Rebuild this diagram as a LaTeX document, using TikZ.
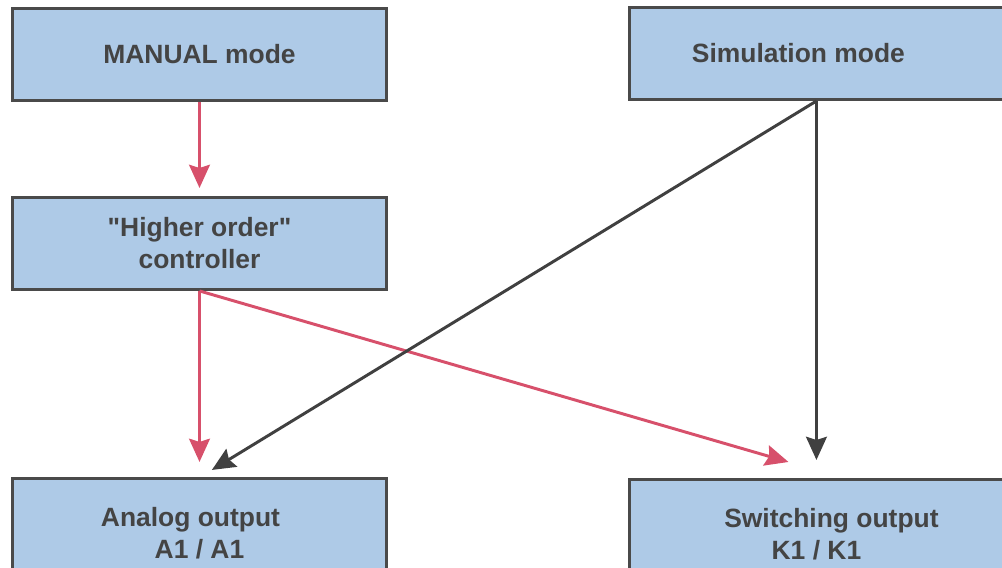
\documentclass[tikz,border=0pt]{standalone}
\usepackage{fontspec}
\setmainfont{Liberation Sans}[Ligatures=TeXOff]
\usepackage{xcolor}
\usetikzlibrary{arrows.meta, positioning, calc}
\definecolor{boxFill}{HTML}{AECAE7}
\definecolor{boxStroke}{HTML}{4A4A4A}
\definecolor{boxTxt}{HTML}{444444}
\definecolor{redLine}{HTML}{D7506B}
\definecolor{darkLine}{HTML}{404040}
\tikzset{
  base/.style={
    rectangle, draw=boxStroke, fill=boxFill, text=boxTxt,
    line width=2.1pt, align=center,
    minimum width=9.35cm, minimum height=2.3cm,
    font=\fontsize{18.8pt}{22.8pt}\selectfont\bfseries
  },
  outbox/.style={base, minimum height=2.75cm},
  redarrow/.style={-{Stealth[length=0.58cm, width=0.52cm, inset=0.08cm]}, redLine, line width=2.1pt},
  darkarrow/.style={-{Stealth[length=0.58cm, width=0.52cm, inset=0.08cm]}, darkLine, line width=2.1pt},
}

\begin{document}
\begin{tikzpicture}
    \useasboundingbox (0,0) rectangle (25.05,-14.2);
    \clip (0,0) rectangle (25.05,-14.2);

    \node[base] (manual) at (4.9875,-1.3625) {MANUAL mode};
    \node[base, right=6cm of manual, yshift=0.025cm] (sim) {Simulation mode\hspace*{0.9cm}};
    \node[base, below=2.35cm of manual] (higher) {"Higher order"\\controller};
    \node[outbox, below=4.65cm of higher, anchor=north] (analog) {Analog output\hspace*{0.45cm}\\A1 / A1};
    \node[outbox, below=9.425cm of sim, anchor=north] (switching) {\hspace*{0.75cm}Switching output\\K1 / K1};

    \draw[redarrow, shorten >=0.2cm] (manual.south) -- (higher.north);
    \draw[redarrow, shorten >=0.375cm] (higher.south) -- (analog.north);
    \draw[redarrow] (higher.south) -- ($(switching.north)+(-0.7,0.4)$);

    \draw[darkarrow] (sim.south) -- ($(analog.north)+(0.31,0.175)$);
    \draw[darkarrow, shorten >=0.45cm] (sim.south) -- (switching.north);
\end{tikzpicture}
\end{document}
